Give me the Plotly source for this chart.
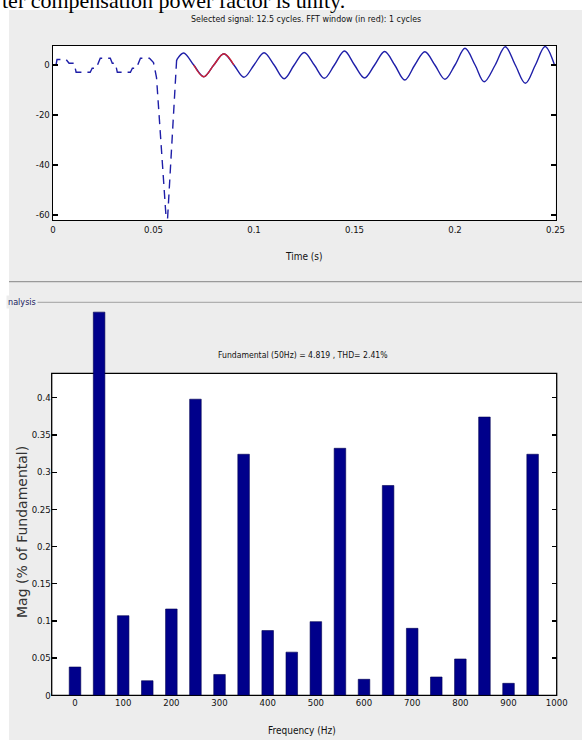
import plotly.graph_objects as go

W, H = 582, 740

# ---------------- data ----------------
# pre-transient staircase + transient (dashed part)
t_pre = [0.0015, 0.0020, 0.0065, 0.0080, 0.0105, 0.0115, 0.0185, 0.0195, 0.0215, 0.0225,
         0.0235, 0.0285, 0.0295, 0.0310, 0.0320, 0.0385, 0.0395, 0.0415, 0.0425, 0.0435,
         0.0480, 0.0500, 0.0515, 0.0563, 0.0570, 0.0615]
v_pre = [0.0, 2.2, 2.2, 0.7, 0.7, -2.9, -2.9, -1.3, -1.3, 0.7,
         2.7, 2.7, 0.7, 0.7, -2.9, -2.9, -1.3, -1.3, 0.7, 2.7,
         2.7, 1.0, -5.0, -61.4, -61.4, 2.0]

# steady-state signal (solid part)
t_sig = [0.0615, 0.065, 0.070, 0.075, 0.080, 0.085, 0.090, 0.095, 0.100, 0.105,
         0.110, 0.115, 0.120, 0.125, 0.130, 0.135, 0.140, 0.145, 0.150, 0.155,
         0.160, 0.165, 0.170, 0.175, 0.180, 0.185, 0.190, 0.195, 0.200, 0.205,
         0.210, 0.2145, 0.220, 0.225, 0.230, 0.235, 0.240, 0.2448, 0.2495]
v_sig = [2.0, 4.8, 0.0, -4.7, 0.0, 4.5, 0.0, -4.9, 0.0, 4.9,
         0.0, -5.5, 0.0, 5.0, 0.0, -5.3, 0.0, 5.6, 0.0, -5.2,
         0.0, 5.4, 0.0, -6.0, 0.0, 5.3, 0.0, -5.7, 0.0, 6.7,
         0.0, -6.7, 0.0, 7.3, 0.0, -7.3, 0.0, 7.4, 0.0]

# FFT window (red)
t_fft = [0.070, 0.075, 0.080, 0.085, 0.090]
v_fft = [0.0, -4.7, 0.0, 4.5, 0.0]

# FFT spectrum
freq = [0, 50, 100, 150, 200, 250, 300, 350, 400, 450,
        500, 550, 600, 650, 700, 750, 800, 850, 900, 950]
mag = [0.038, 0.515, 0.107, 0.0196, 0.116, 0.398, 0.028, 0.324, 0.087, 0.058,
       0.099, 0.332, 0.0215, 0.282, 0.090, 0.0246, 0.0488, 0.374, 0.0161, 0.324]

t_ticks = [0, 0.05, 0.1, 0.15, 0.2, 0.25]
t_ticklabels = ["0", "0.05", "0.1", "0.15", "0.2", "0.25"]
v_ticks = [-60, -40, -20, 0]
v_ticklabels = ["-60", "-40", "-20", "0"]
f_ticks = [0, 100, 200, 300, 400, 500, 600, 700, 800, 900, 1000]
f_ticklabels = ["0", "100", "200", "300", "400", "500", "600", "700", "800", "900", "1000"]
m_ticks = [0, 0.05, 0.1, 0.15, 0.2, 0.25, 0.3, 0.35, 0.4]
m_ticklabels = ["0", "0.05", "0.1", "0.15", "0.2", "0.25", "0.3", "0.35", "0.4"]
t_visible_ticks = [0.05, 0.2]
f_visible_top_ticks = [0, 200, 400, 800, 900]

# ---------------- layout helpers ----------------
def px(x):
    return x / W

def py(y):
    return 1 - y / H

NARROW = "Liberation Sans Narrow, Arial Narrow, DejaVu Sans Condensed, Liberation Sans, sans-serif"
BLUE = "#1f1fa8"
RED = "#cc2233"
BAR = "#00008b"
GRAY_BG = "#ededed"

# pixel boxes
T_L, T_R, T_T, T_B = 53.0, 555.5, 46.0, 220.0
B_L, B_R, B_T, B_B = 51.7, 556.7, 373.3, 695.3
BAR_TOP = 303.0
t_range = [0, 0.25]
v_range = [-62.0, 7.6]
f_range = [-48.4, 1000]
m_box_top = 0.4328
m_ext_top = m_box_top * (B_B - BAR_TOP) / (B_B - B_T)

fig = go.Figure()

fig.add_trace(go.Scatter(x=t_pre, y=v_pre, mode="lines", xaxis="x", yaxis="y",
                         line=dict(color=BLUE, width=1.4, dash="9px,6px"),
                         hoverinfo="skip", showlegend=False))
fig.add_trace(go.Scatter(x=t_sig, y=v_sig, mode="lines", xaxis="x", yaxis="y",
                         line=dict(color=BLUE, width=1.4, shape="spline", smoothing=1.0),
                         hoverinfo="skip", showlegend=False))
fig.add_trace(go.Scatter(x=t_fft, y=v_fft, mode="lines", xaxis="x", yaxis="y",
                         line=dict(color=RED, width=1.4, shape="spline", smoothing=1.0),
                         hoverinfo="skip", showlegend=False))
fig.add_trace(go.Bar(x=freq, y=mag, xaxis="x2", yaxis="y2", width=24,
                     marker=dict(color=BAR, line=dict(color="#000050", width=0.6)),
                     hoverinfo="skip", showlegend=False))

tickfont = dict(family=NARROW, size=9.5, color="#111111")

fig.update_layout(
    width=W, height=H, autosize=False,
    margin=dict(l=0, r=0, t=0, b=0, pad=0),
    paper_bgcolor="white", plot_bgcolor="rgba(0,0,0,0)",
    bargap=0, hovermode=False,
    xaxis=dict(domain=[px(T_L), px(T_R)], range=t_range, anchor="y", automargin=False,
               tickmode="array", tickvals=t_ticks, ticktext=t_ticklabels, ticks="",
               showline=True, linecolor="black", linewidth=1.3, mirror=True,
               showgrid=False, zeroline=False, tickfont=tickfont),
    xaxis3=dict(overlaying="x", range=t_range, anchor="y", automargin=False,
                tickmode="array", tickvals=t_visible_ticks, ticks="inside", ticklen=6,
                tickcolor="black", tickwidth=1.2, mirror="ticks", showticklabels=False,
                showline=False, showgrid=False, zeroline=False),
    yaxis=dict(domain=[py(T_B), py(T_T)], range=v_range, anchor="x", automargin=False,
               tickmode="array", tickvals=v_ticks, ticktext=v_ticklabels,
               ticks="inside", ticklen=5, tickcolor="black", tickwidth=1.2,
               showline=True, linecolor="black", linewidth=1.3, mirror="ticks",
               showgrid=False, zeroline=False, tickfont=tickfont),
    xaxis2=dict(domain=[px(B_L), px(B_R)], range=f_range, anchor="y2", automargin=False,
                tickmode="array", tickvals=f_ticks, ticktext=f_ticklabels, ticks="",
                showline=False, showgrid=False, zeroline=False, tickfont=tickfont),
    xaxis4=dict(overlaying="x2", range=f_range, anchor="free", position=py(B_T),
                side="top", automargin=False,
                tickmode="array", tickvals=f_visible_top_ticks, ticks="inside",
                ticklen=7, tickcolor="black", tickwidth=1.2, showticklabels=False,
                showline=False, showgrid=False, zeroline=False),
    yaxis2=dict(domain=[py(B_B), py(BAR_TOP)], range=[0, m_ext_top], anchor="x2",
                automargin=False,
                tickmode="array", tickvals=m_ticks, ticktext=m_ticklabels,
                ticks="inside", ticklen=5, tickcolor="black", tickwidth=1.2,
                showline=False, mirror="ticks",
                showgrid=False, zeroline=False, tickfont=tickfont),
)

shapes = [
    # gray figure panel
    dict(type="rect", xref="paper", yref="paper", x0=px(9), x1=1.0, y0=0.0, y1=py(10),
         fillcolor=GRAY_BG, line=dict(width=0), layer="below"),
    # white axes area of the time plot
    dict(type="rect", xref="paper", yref="paper", x0=px(T_L), x1=px(T_R), y0=py(T_B), y1=py(T_T),
         fillcolor="white", line=dict(width=0), layer="below"),
    # white axes box of the spectrum plot
    dict(type="rect", xref="paper", yref="paper", x0=px(B_L), x1=px(B_R), y0=py(B_B), y1=py(B_T),
         fillcolor="white", line=dict(color="black", width=1.3), layer="below"),
    # separator lines
    dict(type="line", xref="paper", yref="paper", x0=px(9), x1=1.0, y0=py(281.7), y1=py(281.7),
         line=dict(color="#9a9a9a", width=1.2), layer="below"),
    dict(type="line", xref="paper", yref="paper", x0=px(35), x1=1.0, y0=py(302.3), y1=py(302.3),
         line=dict(color="#a0a0a0", width=1.0), layer="below"),
]
fig.update_layout(shapes=shapes)

small = dict(family=NARROW, size=10, color="#111111")
annotations = [
    dict(text="ter compensation power factor is unity.", x=px(0), y=py(0), xref="paper", yref="paper",
         xanchor="left", yanchor="middle", showarrow=False,
         font=dict(family="Liberation Serif, Times New Roman, serif", size=22, color="black")),
    dict(text="Selected signal: 12.5 cycles. FFT window (in red): 1 cycles", x=px(306), y=py(19),
         xref="paper", yref="paper", xanchor="center", yanchor="middle", showarrow=False,
         font=dict(family=NARROW, size=8.8, color="#111111")),
    dict(text="Time (s)", x=px(304), y=py(256), xref="paper", yref="paper",
         xanchor="center", yanchor="middle", showarrow=False, font=small),
    dict(text="nalysis", x=px(6), y=py(302), xref="paper", yref="paper",
         xanchor="left", yanchor="middle", showarrow=False,
         font=dict(family=NARROW, size=9, color="#202060"), bgcolor=GRAY_BG),
    dict(text="Fundamental (50Hz) = 4.819 , THD= 2.41%", x=px(302.5), y=py(355),
         xref="paper", yref="paper", xanchor="center", yanchor="middle", showarrow=False,
         font=dict(family=NARROW, size=8.6, color="#111111")),
    dict(text="Mag (% of Fundamental)", x=px(22), y=py(532), xref="paper", yref="paper",
         xanchor="center", yanchor="middle", showarrow=False, textangle=-90,
         font=dict(family="DejaVu Sans, sans-serif", size=14, color="#333333")),
    dict(text="Frequency (Hz)", x=px(302), y=py(730), xref="paper", yref="paper",
         xanchor="center", yanchor="middle", showarrow=False, font=small),
]
fig.update_layout(annotations=annotations)

fig.write_html("out.html", config={"displayModeBar": False, "staticPlot": True},
               post_script="document.body.style.margin='0px';")
